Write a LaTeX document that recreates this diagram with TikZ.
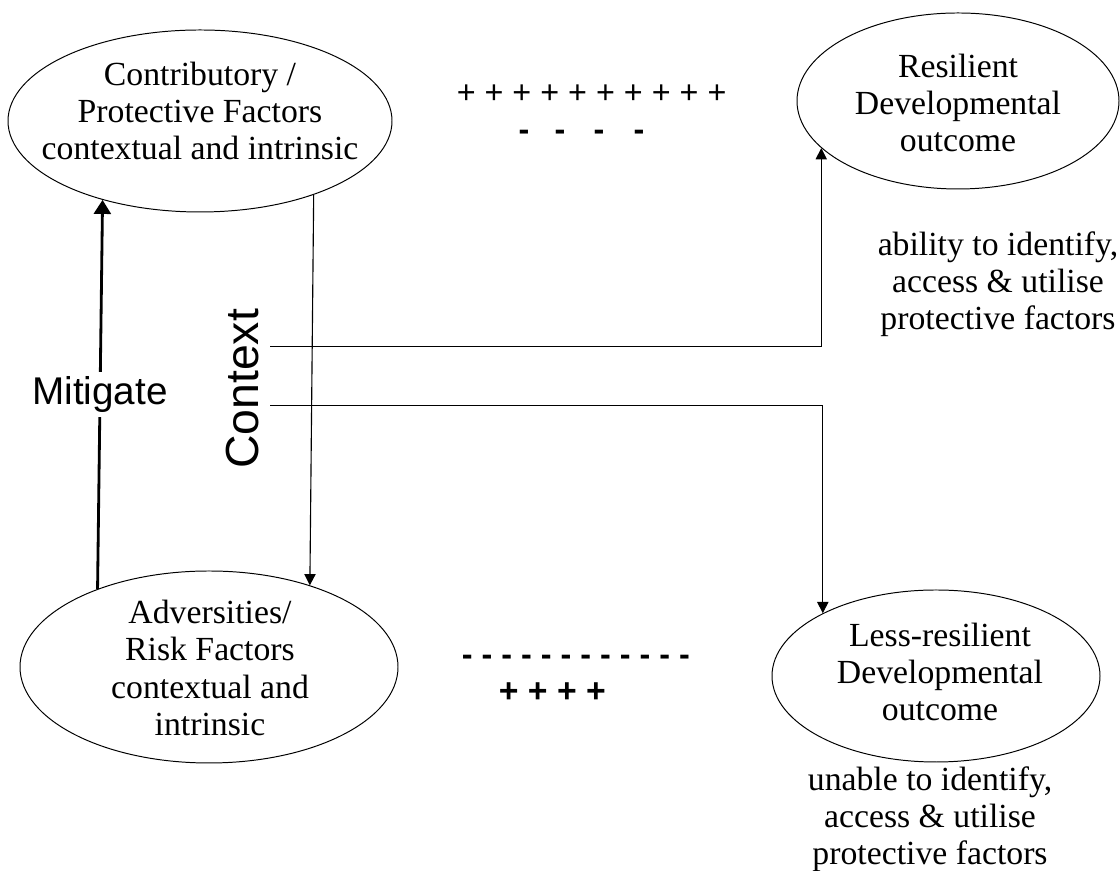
\documentclass[tikz,border=0pt]{standalone}
\usepackage{fontspec}
\setmainfont{Liberation Serif}
\setsansfont{Liberation Sans}
\usepackage{tikz}
\usetikzlibrary{shapes.geometric, arrows.meta}

\begin{document}
\begin{tikzpicture}[
    oval/.style={draw, ellipse, line width=0.7pt, inner sep=0pt},
    txt/.style={align=center, font=\fontsize{24}{26.5}\selectfont},
    sign/.style={inner sep=0pt, font=\sffamily\fontsize{23}{23}\selectfont},
    boldsign/.style={inner sep=0pt, font=\sffamily\bfseries\fontsize{23}{23}\selectfont},
    arrow/.style={-{Triangle[width=8pt,length=8pt]}, line width=0.8pt},
    thickarrow/.style={-{Triangle[width=12pt,length=10pt]}, line width=2pt}
]
\useasboundingbox (0,0) rectangle (28,21.775);

% factor and outcome ellipses
\node[oval, minimum width=9.6cm, minimum height=4.55cm] (prot) at (5,18.75) {};
\node[oval, minimum width=8.05cm, minimum height=4.4cm] (resil) at (23.95,19.25) {};
\node[oval, minimum width=9.45cm, minimum height=4.8cm] (advr) at (5.225,5.1) {};
\node[oval, minimum width=8.2cm, minimum height=4.3cm] (lessres) at (23.4,4.875) {};

\node[txt] (protT) at (5,19) {Contributory /\\Protective Factors\\contextual and intrinsic};
\node[txt] (resilT) at (23.95,19.2) {Resilient\\Developmental\\outcome};
\node[txt] (advrT) at (5.25,5.075) {Adversities/\\Risk Factors\\contextual and\\intrinsic};
\node[txt] (lessresT) at (23.5,4.975) {Less-resilient\\Developmental\\outcome};

\node[txt] (abilT) at (24.95,14.675) {ability to identify,\\access \& utilise\\protective factors};
\node[txt] (unabT) at (23.25,1.3) {unable to identify,\\access \& utilise\\protective factors};

% balance of pluses and minuses
\node[sign] (plusTop) at (14.79,19.425) {+ + + + + + + + + +};
\foreach \x [count=\i] in {13.1,14.0,14.975,15.975}
    \node[boldsign] (minTop\i) at (\x,18.385) {-};
\node[boldsign] (minBot) at (14.4,5.26) {- - - - - - - - - - - -};
\node[boldsign, font=\sffamily\bfseries\fontsize{24}{24}\selectfont] (plusBot) at (13.81,4.45) {+ + + +};

% context splits into the two outcomes
\node[rotate=90, font=\sffamily\fontsize{33}{33}\selectfont] (ctx) at (6.075,12.05) {Context};
\coordinate (ctxA) at (6.75,13.1);
\coordinate (ctxB) at (6.75,11.625);
\draw[arrow, line width=0.7pt] (ctxA) -| (resil.199);
\draw[arrow, line width=0.7pt] (ctxB) -| (lessres.151);

\draw[thickarrow] (advr.145) -- node[fill=white, inner sep=3pt, font=\sffamily\fontsize{27.5}{27.5}\selectfont] (mitig) {Mitigate} (prot.219);
\draw[arrow] (prot.327) -- (advr.39);
\end{tikzpicture}
\end{document}
